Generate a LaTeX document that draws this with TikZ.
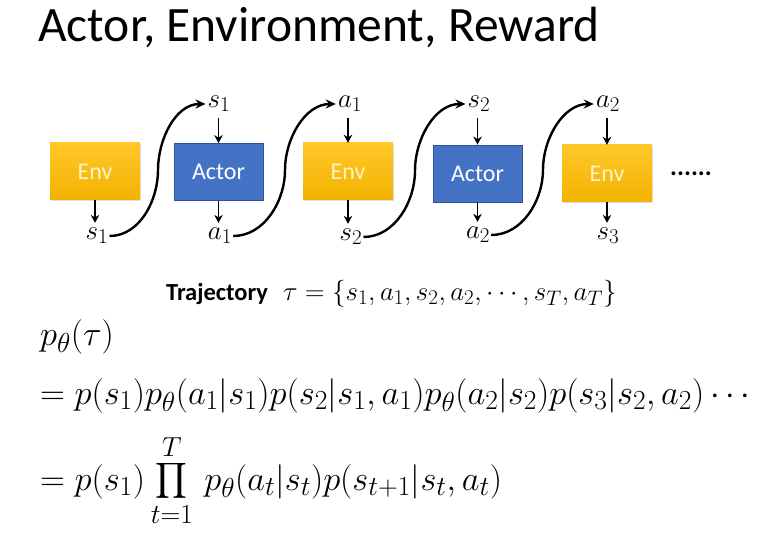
\RequirePackage{fix-cm}
\documentclass[tikz,border=0pt]{standalone}
\usepackage{exscale}
\usepackage{fontspec}
\setmainfont{Carlito}
\DeclareMathSizes{34.5}{34.5}{27.5}{20.5}
\DeclareMathSizes{27}{27}{21}{16}
\usetikzlibrary{arrows.meta,shadows,calc}
\definecolor{envtop}{HTML}{FFC829}
\definecolor{envbot}{HTML}{F2B200}
\definecolor{envtext}{HTML}{FFF2CC}
\definecolor{actorfill}{HTML}{4472C4}
\definecolor{actorline}{HTML}{2F528F}
\tikzset{
  envbox/.style={rectangle, minimum width=90pt, minimum height=57pt, inner sep=0pt,
    top color=envtop, bottom color=envbot, draw=none,
    drop shadow={shadow xshift=1pt, shadow yshift=-1.5pt, opacity=0.25},
    text=envtext, font=\fontsize{24}{28}\selectfont},
  actorbox/.style={rectangle, minimum width=89pt, minimum height=57pt, inner sep=0pt,
    fill=actorfill, draw=actorline, line width=0.8pt,
    text=white, font=\fontsize{24}{28}\selectfont},
  lab/.style={inner sep=0pt, font=\fontsize{27}{30}\selectfont},
  short/.style={-{Stealth[length=8pt,width=8.5pt]}, line width=1.8pt},
  wave/.style={-{Stealth[length=10pt,width=9pt]}, line width=2.4pt},
  eq/.style={inner sep=0pt, anchor=base west, font=\fontsize{34.5}{40}\selectfont}
}
\begin{document}
\begin{tikzpicture}[x=1pt,y=-1pt]
\useasboundingbox (0,0) rectangle (767,537);
\node[anchor=base west, inner sep=0pt, font=\fontsize{49.5}{54}\selectfont] (title) at (38,42) {Actor, Environment, Reward};

\node[envbox] (env1) at (95,171.5) {Env};
\node[actorbox] (act1) at (218.5,172) {Actor};
\node[envbox] (env2) at (348,171.5) {Env};
\node[actorbox] (act2) at (477.5,173.5) {Actor};
\node[envbox] (env3) at (607,173.5) {Env};
\node[inner sep=0pt, font=\bfseries\fontsize{26}{30}\selectfont] (dots) at (691,174) {......};

% bottom labels
\node[lab] (s1b) at (97,236) {$s_1$};
\node[lab] (a1b) at (220,236) {$a_1$};
\node[lab] (s2b) at (351,237) {$s_2$};
\node[lab] (a2b) at (478,235) {$a_2$};
\node[lab] (s3b) at (608,236) {$s_3$};
% top labels
\node[lab] (s1t) at (219,104) {$s_1$};
\node[lab] (a1t) at (350,104) {$a_1$};
\node[lab] (s2t) at (479,104) {$s_2$};
\node[lab] (a2t) at (608,104) {$a_2$};

\foreach \b/\l in {env1/s1b, act1/a1b, env2/s2b, act2/a2b, env3/s3b}
  \draw[short, shorten >=5pt] (\b.south) -- (\b.south |- \l.north);
\foreach \l/\b in {s1t/act1, a1t/env2, s2t/act2, a2t/env3}
  \draw[short, shorten <=6pt] (\b.north |- \l.south) -- (\b.north);

\foreach \f/\t in {s1b/s1t, a1b/a1t, s2b/s2t, a2b/a2t}
  \draw[wave] ([xshift=1pt]\f.east) to[out=0,in=-90,looseness=0.95] ($(\f.east)!0.5!(\t.west)$) to[out=90,in=180,looseness=0.95] ([xshift=-2pt]\t.west);

\node[anchor=base west, inner sep=0pt, font=\bfseries\fontsize{24.5}{28}\selectfont] (traj) at (166,300) {Trajectory};
\node[eq, font=\fontsize{27}{30}\selectfont] (tau) at (283,300) {$\tau=\{s_1,a_1,s_2,a_2,\cdots,s_T,a_T\}$};

\node[eq] (l1) at (40,345) {$p_\theta(\tau)$};
\node[eq] (l2) at (40,404) {$=p(s_1)p_\theta(a_1|s_1)p(s_2|s_1,a_1)p_\theta(a_2|s_2)p(s_3|s_2,a_2)\cdots$};
\node[eq] (l3) at (40,490) {$\displaystyle =p(s_1)\prod_{t=1}^{T}\,p_\theta(a_t|s_t)p(s_{t+1}|s_t,a_t)$};
\end{tikzpicture}
\end{document}
